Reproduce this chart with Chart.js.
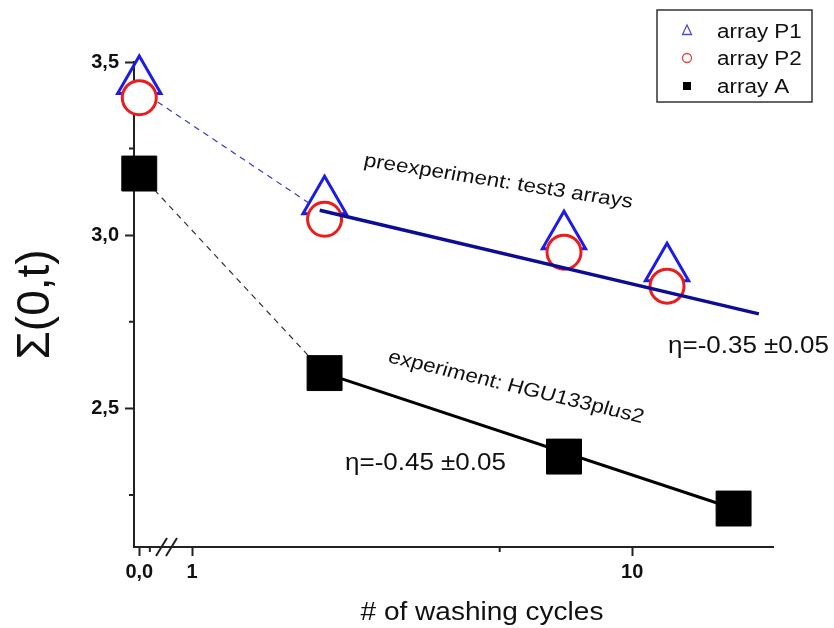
<!DOCTYPE html>
<html>
<head>
<meta charset="utf-8">
<script src="https://cdn.jsdelivr.net/npm/chart.js@4.4.1/dist/chart.umd.min.js"></script>
<style>
  body { margin: 0; background: #fff; }
  canvas { display: block; }
</style>
</head>
<body>
<canvas id="chartSigma" width="834" height="628"></canvas>
<script>
// washing cycles (0 sits left of the axis break)
const cyclesP = [0, 2, 7, 12]
const cyclesA = [0, 2, 7, 17]
const sigmaP1 = [3.445, 3.098, 2.997, 2.905]
const sigmaP2 = [3.397, 3.046, 2.951, 2.853]
const sigmaA = [3.178, 2.602, 2.361, 2.211]

// fitted lines
const fitPCycles = [1.95, 19.4]
const fitPSigma = [3.072, 2.773]
const fitACycles = [2, 17]
const fitASigma = [2.602, 2.211]

// dashed guides from 0 to the first washing
const guidePCycles = [0, 1.95]
const guidePSigma = [3.42, 3.072]
const guideACycles = [0, 2]
const guideASigma = [3.178, 2.602]

// ticks
const xTickCycles = [0, 1, 10]
const xTickLabels = ['0,0', '1', '10']
const xMinorCycles = [5]
const yTickValues = [2.5, 3.0, 3.5]
const yTickLabels = ['2,5', '3,0', '3,5']
const yMinorValues = [2.25, 2.75, 3.25]

const BREAK_POS = -0.12
const BREAK_MINOR = -0.096
const FONT = '"Liberation Sans", Arial, sans-serif'

const toX = c => c > 0 ? Math.log10(c) : BREAK_POS
const toPoints = (xs, ys) => xs.map((c, i) => ({ x: toX(c), y: ys[i] }))

const canvas = document.getElementById('chartSigma')
const context = canvas.getContext('2d')

const drawText = (ctx, text, x, y, size, angle, stretch, align) => {
    ctx.save()
    ctx.translate(x, y)
    ctx.scale(stretch, 1)
    ctx.rotate(Math.atan(Math.tan(angle * Math.PI / 180) * stretch))
    ctx.font = `${size}px ${FONT}`
    ctx.fillStyle = '#111'
    ctx.textAlign = align || 'left'
    ctx.textBaseline = 'alphabetic'
    ctx.fillText(text, 0, 0)
    ctx.restore()
}

const extras = {
    id: 'extras',
    afterDraw(chart) {
        const ctx = chart.ctx
        const xs = chart.scales.x
        const ys = chart.scales.y
        const area = chart.chartArea

        // minor ticks
        ctx.save()
        ctx.strokeStyle = '#222'
        ctx.lineWidth = 2
        ctx.beginPath()
        const minorX = xMinorCycles.map(toX).concat([BREAK_MINOR])
        minorX.forEach(v => {
            const px = xs.getPixelForValue(v)
            ctx.moveTo(px, area.bottom)
            ctx.lineTo(px, area.bottom + 5)
        })
        yMinorValues.forEach(v => {
            const py = ys.getPixelForValue(v)
            ctx.moveTo(area.left, py)
            ctx.lineTo(area.left - 5, py)
        })
        ctx.stroke()

        // axis break
        ctx.beginPath()
        ctx.moveTo(156, area.bottom + 9)
        ctx.lineTo(167, area.bottom - 9)
        ctx.moveTo(166, area.bottom + 9)
        ctx.lineTo(177, area.bottom - 9)
        ctx.stroke()
        ctx.restore()

        // annotations
        drawText(ctx, 'preexperiment: test3 arrays', 363, 166, 19.5, 8.9, 1.15)
        drawText(ctx, 'experiment: HGU133plus2', 387, 362, 19.5, 13.5, 1.15)
        drawText(ctx, 'η=-0.35 ±0.05', 668, 353, 23, 0, 1.13)
        drawText(ctx, 'η=-0.45 ±0.05', 345, 470, 23, 0, 1.13)
        drawText(ctx, '# of washing cycles', 482, 620, 25, 0, 1.12, 'center')

        // legend box
        ctx.save()
        ctx.strokeStyle = '#333'
        ctx.lineWidth = 1.5
        ctx.strokeRect(657, 10, 155, 92)
        const rows = [31, 58, 86]
        chart.data.datasets.slice(0, 3).forEach((ds, i) => {
            const mx = 687
            const my = rows[i]
            ctx.lineWidth = 1.3
            ctx.beginPath()
            if (ds.pointStyle === 'triangle') {
                ctx.strokeStyle = '#4a4ae0'
                ctx.moveTo(mx, my - 6)
                ctx.lineTo(mx + 4.5, my + 3.5)
                ctx.lineTo(mx - 4.5, my + 3.5)
                ctx.closePath()
                ctx.stroke()
            } else if (ds.pointStyle === 'circle') {
                ctx.strokeStyle = '#e04444'
                ctx.arc(mx, my, 4.5, 0, Math.PI * 2)
                ctx.stroke()
            } else {
                ctx.fillStyle = '#000'
                ctx.fillRect(mx - 4, my - 4, 8, 8)
            }
            drawText(ctx, ds.label, 717, my + 7, 19.5, 0, 1.15)
        })
        ctx.restore()
    }
}

const chartSigma = new Chart(context, {
    type: 'scatter',
    data: {
        datasets: [
            {
                label: 'array P1',
                data: toPoints(cyclesP, sigmaP1),
                pointStyle: 'triangle',
                pointRadius: 25,
                pointBorderWidth: 3,
                pointBorderColor: '#1c1ce8',
                pointBackgroundColor: 'rgba(255,255,255,0)',
                showLine: false,
                clip: false,
                order: 6
            },
            {
                label: 'array P2',
                data: toPoints(cyclesP, sigmaP2),
                pointStyle: 'circle',
                pointRadius: 17,
                pointBorderWidth: 3,
                pointBorderColor: '#ec1c1c',
                pointBackgroundColor: '#fff',
                showLine: false,
                clip: false,
                order: 4
            },
            {
                label: 'array A',
                data: toPoints(cyclesA, sigmaA),
                pointStyle: 'rect',
                pointRadius: 24.7,
                pointBorderWidth: 1,
                pointBorderColor: '#000',
                pointBackgroundColor: '#000',
                showLine: false,
                clip: false,
                order: 1
            },
            {
                label: 'fit P',
                data: toPoints(fitPCycles, fitPSigma),
                showLine: true,
                pointRadius: 0,
                borderColor: '#0c0c96',
                borderWidth: 3.5,
                clip: false,
                order: 3
            },
            {
                label: 'fit A',
                data: toPoints(fitACycles, fitASigma),
                showLine: true,
                pointRadius: 0,
                borderColor: '#000',
                borderWidth: 3,
                clip: false,
                order: 2
            },
            {
                label: 'guide P',
                data: toPoints(guidePCycles, guidePSigma),
                showLine: true,
                pointRadius: 0,
                borderColor: '#3838c8',
                borderWidth: 1.2,
                borderDash: [6, 5],
                clip: false,
                order: 5
            },
            {
                label: 'guide A',
                data: toPoints(guideACycles, guideASigma),
                showLine: true,
                pointRadius: 0,
                borderColor: '#333',
                borderWidth: 1.2,
                borderDash: [6, 5],
                clip: false,
                order: 5
            }
        ]
    },
    options: {
        responsive: false,
        animation: false,
        events: [],
        layout: { padding: { top: 62, right: 61, left: 0, bottom: 0 } },
        plugins: {
            legend: { display: false },
            tooltip: { enabled: false }
        },
        scales: {
            x: {
                type: 'linear',
                min: -0.132,
                max: 1.32,
                afterFit: scale => { scale.height = 81 },
                afterBuildTicks: scale => {
                    scale.ticks = xTickCycles.map(c => ({ value: toX(c) }))
                },
                ticks: {
                    autoSkip: false,
                    maxRotation: 0,
                    padding: 4,
                    color: '#111',
                    font: { family: FONT, size: 20, weight: 'bold' },
                    callback: (value, index) => xTickLabels[index]
                },
                grid: { drawOnChartArea: false, tickLength: 9, tickWidth: 2, tickColor: '#222' },
                border: { display: true, color: '#222', width: 2 }
            },
            y: {
                type: 'linear',
                min: 2.1,
                max: 3.5,
                afterFit: scale => { scale.width = 134 },
                afterBuildTicks: scale => {
                    scale.ticks = yTickValues.map(v => ({ value: v }))
                },
                ticks: {
                    autoSkip: false,
                    padding: 6,
                    color: '#111',
                    font: { family: FONT, size: 20, weight: 'bold' },
                    callback: (value, index) => yTickLabels[index]
                },
                grid: { drawOnChartArea: false, tickLength: 9, tickWidth: 2, tickColor: '#222' },
                border: { display: true, color: '#222', width: 2 },
                title: {
                    display: true,
                    text: 'Σ(0,t)',
                    color: '#111',
                    padding: { top: 9, bottom: 0 },
                    font: { family: FONT, size: 46 }
                }
            }
        }
    },
    plugins: [extras]
})
</script>
</body>
</html>
